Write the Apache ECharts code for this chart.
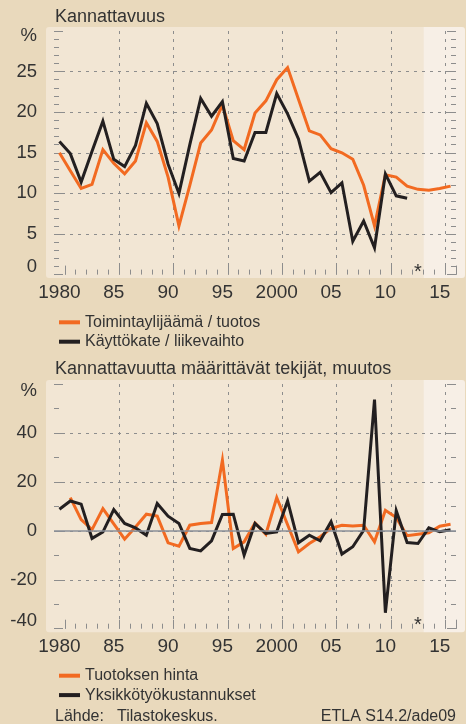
<!DOCTYPE html>
<html>
<head>
<meta charset="utf-8">
<script src="https://cdn.jsdelivr.net/npm/echarts@6/dist/echarts.min.js"></script>
<style>
html, body { margin: 0; padding: 0; background: #e9d9bc; }
#chart { width: 466px; height: 724px; }
</style>
</head>
<body>
<div id="chart"></div>
<script>
const years = ['1980', '1981', '1982', '1983', '1984', '1985', '1986', '1987', '1988', '1989',
    '1990', '1991', '1992', '1993', '1994', '1995', '1996', '1997', '1998', '1999',
    '2000', '2001', '2002', '2003', '2004', '2005', '2006', '2007', '2008', '2009',
    '2010', '2011', '2012', '2013', '2014', '2015', '2016'];

// Kannattavuus, %
const toimintaylijaama = [15.0, 12.8, 10.6, 11.1, 15.4, 13.7, 12.4, 14.0, 18.7, 16.4,
    12.0, 6.0, 11.0, 16.2, 17.8, 20.9, 16.5, 15.4, 19.9, 21.4,
    24.0, 25.5, 21.6, 17.7, 17.2, 15.5, 15.0, 14.2, 11.0, 6.0,
    12.3, 12.0, 10.9, 10.5, 10.4, 10.6, 10.9];
const kayttokate = [16.4, 14.9, 11.4, 15.2, 18.9, 14.2, 13.3, 15.9, 21.1, 18.6,
    13.6, 10.0, 16.0, 21.7, 19.5, 21.3, 14.3, 14.0, 17.5, 17.5,
    22.3, 19.8, 16.7, 11.5, 12.6, 10.1, 11.3, 4.1, 6.6, 3.3,
    12.4, 9.7, 9.4, null, null, null, null];

// Kannattavuutta määrittävät tekijät, muutos %
const tuotoksenHinta = [null, 13.6, 4.6, 0.5, 9.1, 2.8, -3.4, 1.6, 6.8, 6.0,
    -4.9, -6.3, 2.3, 3.0, 3.4, 28.9, -7.2, -4.5, 3.2, -1.4,
    13.6, 2.5, -8.6, -5.2, -2.4, 1.0, 2.3, 2.0, 2.3, -4.5,
    8.4, 5.4, -2.0, -1.4, -0.8, 1.9, 2.7];
const yksikkotyokustannukset = [8.8, 12.2, 10.9, -3.1, -0.5, 8.7, 3.0, 1.2, -1.8, 11.2,
    6.0, 3.0, -7.2, -8.2, -4.1, 6.7, 6.8, -9.9, 3.0, -1.1,
    -0.4, 12.2, -4.9, -1.8, -4.1, 3.7, -9.5, -6.5, 0.2, 53.6,
    -33.5, 8.2, -4.8, -5.2, 1.2, -0.4, 0.4];

const forecastFrom = '2014';
const starYear = '2013';

const topTicks = { min: 0, max: 30, interval: 5, minor: 5 };
const bottomTicks = { min: -40, max: 60, interval: 20, minor: 2 };

const colorOrange = '#f26a21';
const colorBlack = '#231f20';
const colorGrid = '#8d8d8d';
const colorText = '#333333';
const colorPlot = '#f2e6d4';
const colorForecast = '#f7efe6';
const font = '"Liberation Sans", Arial, sans-serif';

const plotLeft = 54;
const plotWidth = 402;
const topGrid = { top: 31, height: 243.6 };
const bottomGrid = { top: 384, height: 244.7 };

function shortYear(v) {
    return (v === '1980' || v === '2000') ? v : v.slice(2);
}

function isMajorBoundary(index, value) {
    return (Number(value) - 1981) % 5 === 0;
}

function makeXAxes(gridIndex) {
    const major = {
        type: 'category',
        gridIndex: gridIndex,
        data: years,
        position: 'bottom',
        boundaryGap: true,
        axisLine: { show: false, onZero: false },
        axisTick: {
            show: true, inside: true, length: 9,
            interval: isMajorBoundary,
            lineStyle: { color: colorGrid, width: 1 }
        },
        axisLabel: {
            interval: function (index, value) { return Number(value) % 5 === 0; },
            formatter: shortYear,
            margin: 9,
            fontSize: 19,
            fontFamily: font,
            color: colorText
        },
        splitLine: {
            show: true,
            interval: isMajorBoundary,
            showMinLine: false,
            showMaxLine: false,
            lineStyle: { color: colorGrid, type: [3, 5], width: 1 }
        }
    };
    const minor = {
        type: 'category',
        gridIndex: gridIndex,
        data: years,
        position: 'bottom',
        boundaryGap: true,
        axisLine: { show: false, onZero: false },
        axisTick: {
            show: true, inside: true, length: 5,
            interval: function (index) { return index >= 1; },
            lineStyle: { color: colorGrid, width: 1 }
        },
        axisLabel: { show: false },
        splitLine: { show: false }
    };
    return [major, minor];
}

function makeYAxes(gridIndex, t) {
    const base = {
        type: 'value',
        gridIndex: gridIndex,
        min: t.min,
        max: t.max,
        interval: t.interval,
        axisLine: { show: false },
        axisTick: { show: true, inside: true, length: 9, lineStyle: { color: colorGrid } },
        minorTick: { show: true, splitNumber: t.minor, length: 5, lineStyle: { color: colorGrid } }
    };
    const left = Object.assign({}, base, {
        position: 'left',
        axisLabel: {
            margin: 17,
            fontSize: 18.5,
            fontFamily: font,
            color: colorText,
            formatter: function (v) {
                if (v === t.max) return '';
                if (v === t.min) return '{low|' + v + '}';
                return String(v);
            },
            rich: {
                low: { fontSize: 18.5, fontFamily: font, color: colorText, padding: [0, 0, 15, 0] }
            }
        },
        splitLine: {
            show: true,
            showMinLine: false,
            showMaxLine: false,
            lineStyle: { color: colorGrid, type: [3, 5], width: 1 }
        }
    });
    const right = Object.assign({}, base, {
        position: 'right',
        axisLabel: { show: false },
        splitLine: { show: false }
    });
    return [left, right];
}

function line(name, data, color, xi, yi) {
    return {
        name: name,
        type: 'line',
        data: data,
        xAxisIndex: xi,
        yAxisIndex: yi,
        symbol: 'none',
        z: 3,
        lineStyle: { color: color, width: 3, join: 'miter' },
        itemStyle: { color: color },
        connectNulls: false,
        animation: false
    };
}

function legendAt(top, names) {
    return {
        data: names,
        orient: 'vertical',
        left: plotLeft,
        top: top,
        icon: 'rect',
        itemWidth: 21,
        itemHeight: 4,
        itemGap: 3.4,
        selectedMode: false,
        textStyle: { fontSize: 16, lineHeight: 16, fontFamily: font, color: colorText }
    };
}

function text(x, y, str, size, align) {
    return {
        type: 'text',
        x: x,
        y: y,
        style: {
            text: str,
            fontSize: size,
            fontFamily: font,
            fill: colorText,
            textAlign: align || 'left',
            textVerticalAlign: 'middle'
        }
    };
}

const chart = echarts.init(document.getElementById('chart'), null, { renderer: 'canvas' });

const option = {
    backgroundColor: '#e9d9bc',
    animation: false,
    grid: [
        { left: plotLeft, width: plotWidth, top: topGrid.top, height: topGrid.height },
        { left: plotLeft, width: plotWidth, top: bottomGrid.top, height: bottomGrid.height }
    ],
    xAxis: makeXAxes(0).concat(makeXAxes(1)),
    yAxis: makeYAxes(0, topTicks).concat(makeYAxes(1, bottomTicks)),
    legend: [
        legendAt(309.3, ['Toimintaylijäämä / tuotos', 'Käyttökate / liikevaihto']),
        legendAt(662.7, ['Tuotoksen hinta', 'Yksikkötyökustannukset'])
    ],
    series: [
        line('Toimintaylijäämä / tuotos', toimintaylijaama, colorOrange, 0, 0),
        line('Käyttökate / liikevaihto', kayttokate, colorBlack, 0, 0),
        {
            name: 'nolla',
            type: 'line',
            data: [],
            xAxisIndex: 2,
            yAxisIndex: 2,
            z: 1,
            markLine: {
                silent: true,
                symbol: 'none',
                label: { show: false },
                lineStyle: { color: '#8a8f98', type: 'solid', width: 1.5 },
                data: [{ yAxis: 0 }]
            }
        },
        line('Tuotoksen hinta', tuotoksenHinta, colorOrange, 2, 2),
        line('Yksikkötyökustannukset', yksikkotyokustannukset, colorBlack, 2, 2)
    ]
};

chart.setOption(option);

// backgrounds and loose texts, placed from the axes once they exist
const xStart = chart.convertToPixel({ xAxisIndex: 0 }, years[years.indexOf(forecastFrom) - 1]);
const xNext = chart.convertToPixel({ xAxisIndex: 0 }, forecastFrom);
const forecastX = (xStart + xNext) / 2;
const starX = chart.convertToPixel({ xAxisIndex: 0 }, starYear);
const bgLeft = 46;
const bgRight = 465;

function plotBack(g) {
    const y0 = g.top - 4;
    const h = g.height + 7.5;
    return [
        { type: 'rect', z: -10, shape: { x: bgLeft, y: y0, width: forecastX - bgLeft, height: h, r: [3, 0, 0, 3] }, style: { fill: colorPlot } },
        { type: 'rect', z: -10, shape: { x: forecastX, y: y0, width: bgRight - forecastX, height: h, r: [0, 3, 3, 0] }, style: { fill: colorForecast } }
    ];
}

chart.setOption({
    graphic: plotBack(topGrid).concat(plotBack(bottomGrid)).concat([
        text(55, 17, 'Kannattavuus', 18),
        text(55, 369, 'Kannattavuutta määrittävät tekijät, muutos', 18),
        text(37, 36, '%', 18.5, 'right'),
        text(37, 391, '%', 18.5, 'right'),
        text(starX, topGrid.top + topGrid.height - 2, '*', 20, 'center'),
        text(starX, bottomGrid.top + bottomGrid.height - 3, '*', 20, 'center'),
        text(55, 717, 'Lähde:', 16),
        text(117, 717, 'Tilastokeskus.', 16),
        text(456, 717, 'ETLA S14.2/ade09', 16, 'right')
    ])
});
</script>
</body>
</html>
